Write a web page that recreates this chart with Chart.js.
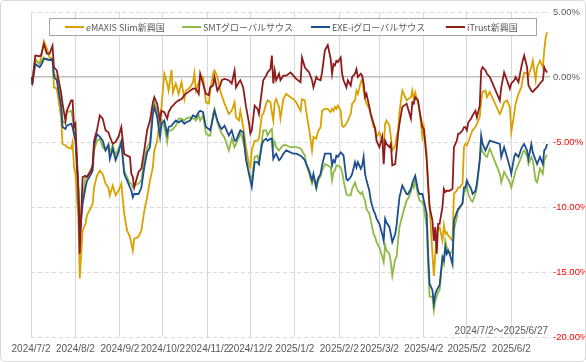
<!DOCTYPE html>
<html>
<head>
<meta charset="utf-8">
<script src="https://cdn.jsdelivr.net/npm/chart.js@4.4.1/dist/chart.umd.min.js"></script>
<style>
body { margin: 0; background: #fff; }
#wrap { position: relative; width: 586px; height: 362px; }
#frame { position: absolute; left: 0; top: 0; width: 586px; height: 362px; box-sizing: border-box; border: 1.5px solid #d9d9d9; border-radius: 5px; pointer-events: none; }
</style>
</head>
<body>
<div id="wrap"><canvas id="chart" width="586" height="362"></canvas><div id="frame"></div></div>
<script>
// observation dates (x categories)
const dates = [
  '2024-07-02','2024-07-03','2024-07-05','2024-07-08','2024-07-09','2024-07-11','2024-07-13','2024-07-15','2024-07-17','2024-07-18',
  '2024-07-20','2024-07-23','2024-07-24','2024-07-26','2024-07-27','2024-07-30','2024-07-31','2024-08-01','2024-08-02','2024-08-04',
  '2024-08-05','2024-08-07','2024-08-09','2024-08-10','2024-08-13','2024-08-14','2024-08-15','2024-08-17','2024-08-19','2024-08-21',
  '2024-08-23','2024-08-25','2024-08-26','2024-08-28','2024-08-30','2024-09-01','2024-09-03','2024-09-05','2024-09-07','2024-09-09',
  '2024-09-10','2024-09-11','2024-09-12','2024-09-15','2024-09-17','2024-09-19','2024-09-21','2024-09-23','2024-09-25','2024-09-26',
  '2024-09-28','2024-09-30','2024-10-01','2024-10-03','2024-10-05','2024-10-06','2024-10-08','2024-10-09','2024-10-11','2024-10-13',
  '2024-10-15','2024-10-17','2024-10-18','2024-10-21','2024-10-23','2024-10-24','2024-10-25','2024-10-27','2024-10-28','2024-10-30',
  '2024-11-01','2024-11-03','2024-11-04','2024-11-06','2024-11-07','2024-11-09','2024-11-11','2024-11-12','2024-11-14','2024-11-17',
  '2024-11-19','2024-11-21','2024-11-22','2024-11-24','2024-11-25','2024-11-27','2024-11-29','2024-12-01','2024-12-02','2024-12-03',
  '2024-12-05','2024-12-07','2024-12-08','2024-12-10','2024-12-11','2024-12-13','2024-12-14','2024-12-16','2024-12-17','2024-12-18',
  '2024-12-19','2024-12-20','2024-12-22','2024-12-23','2024-12-25','2024-12-27','2024-12-30','2025-01-01','2025-01-03','2025-01-06',
  '2025-01-07','2025-01-09','2025-01-10','2025-01-12','2025-01-14','2025-01-15','2025-01-17','2025-01-18','2025-01-20','2025-01-21',
  '2025-01-23','2025-01-25','2025-01-27','2025-01-28','2025-01-29','2025-01-30','2025-01-31','2025-02-01','2025-02-03','2025-02-04',
  '2025-02-05','2025-02-07','2025-02-08','2025-02-10','2025-02-11','2025-02-13','2025-02-14','2025-02-15','2025-02-17','2025-02-18',
  '2025-02-19','2025-02-20','2025-02-21','2025-02-23','2025-02-24','2025-02-26','2025-02-27','2025-02-28','2025-03-02','2025-03-04',
  '2025-03-05','2025-03-06','2025-03-07','2025-03-09','2025-03-10','2025-03-11','2025-03-13','2025-03-14','2025-03-15','2025-03-16',
  '2025-03-18','2025-03-21','2025-03-22','2025-03-24','2025-03-25','2025-03-26','2025-03-27','2025-03-29','2025-03-30','2025-04-01',
  '2025-04-02','2025-04-04','2025-04-05','2025-04-06','2025-04-08','2025-04-09','2025-04-10','2025-04-11','2025-04-12','2025-04-13',
  '2025-04-15','2025-04-16','2025-04-17','2025-04-18','2025-04-19','2025-04-20','2025-04-22','2025-04-23','2025-04-25','2025-04-26',
  '2025-04-27','2025-04-29','2025-04-30','2025-05-01','2025-05-02','2025-05-03','2025-05-05','2025-05-06','2025-05-08','2025-05-09',
  '2025-05-11','2025-05-12','2025-05-13','2025-05-15','2025-05-16','2025-05-18','2025-05-25','2025-05-26','2025-05-28','2025-05-30',
  '2025-06-01','2025-06-02','2025-06-04','2025-06-05','2025-06-07','2025-06-09','2025-06-10','2025-06-11','2025-06-13','2025-06-14',
  '2025-06-16','2025-06-17','2025-06-19','2025-06-20','2025-06-22','2025-06-24','2025-06-25','2025-06-26','2025-06-27'
];

// cumulative return, %
const emaxis = [
  -0.1,-0.1,1.4,1.0,1.5,2.75,2.2,1.5,1.4,-0.8,
  -0.9,-3.1,-5.15,-5.25,-5.4,-5.5,-5.0,-6.95,-7.45,-10.8,
  -15.5,-11.8,-11.3,-10.65,-10.0,-9.75,-8.5,-7.6,-7.2,-7.45,
  -8.2,-8.5,-9.1,-8.35,-9.1,-8.75,-8.2,-10.5,-11.8,-12.3,
  -12.8,-13.35,-12.45,-12.3,-11.8,-10.3,-9.25,-7.95,-6.95,-5.65,
  -4.9,-3.1,-2.3,0.25,-0.5,-1.05,0.55,-1.2,-0.5,-1.3,
  -0.4,-1.7,-1.05,-0.8,-0.4,0.3,-1.05,-0.4,0.1,0.0,
  -1.95,-2.05,-1.05,0.25,0.5,0.0,-1.05,-1.4,-2.05,-2.85,
  -2.6,-1.95,-3.1,-3.35,-2.6,-3.85,-5.4,-6.7,-6.95,-5.65,
  -4.9,-4.9,-4.75,-2.95,-2.85,-2.05,-1.8,-1.95,-2.7,-3.35,
  -1.95,-1.7,-2.3,-3.2,-1.7,-1.3,-1.55,-1.7,-1.95,-2.6,
  -1.7,-1.8,-2.7,-4.0,-5.65,-4.6,-4.75,-4.25,-3.85,-2.6,
  -2.45,-2.45,-2.7,-2.45,-2.6,-2.3,-2.45,-2.2,-2.6,-3.75,
  -3.85,-3.6,-3.35,-2.85,-2.05,-1.8,-1.05,-1.3,-0.4,-0.15,
  -1.05,-1.7,-2.05,-2.45,-2.95,-3.85,-3.85,-4.6,-4.25,-4.9,
  -5.4,-3.6,-3.35,-3.75,-4.6,-5.65,-5.3,-4.6,-4.1,-2.7,
  -1.05,-1.8,-1.7,-1.55,-1.05,-1.8,-1.2,-2.05,-2.6,-4.6,
  -3.85,-5.9,-8.5,-10.0,-13.6,-15.3,-13.6,-12.05,-11.55,-11.55,
  -12.6,-11.4,-12.05,-11.95,-12.2,-12.3,-12.6,-8.95,-8.75,-8.5,
  -8.5,-8.2,-5.4,-5.15,-5.25,-5.0,-4.35,-4.1,-3.85,-3.6,
  -3.1,-1.8,-1.15,-1.05,-1.55,-1.15,-2.85,-2.6,-1.95,-1.8,
  -2.3,-4.25,-2.85,-2.05,-1.3,-0.8,-0.15,0.35,0.25,0.1,
  0.75,1.25,-0.25,0.75,1.25,0.75,2.05,3.05,3.45
];
const smt = [
  -0.3,-0.3,1.3,1.0,1.15,1.5,1.3,1.3,1.3,0.25,
  0.0,-1.8,-3.35,-3.6,-2.7,-2.6,-3.1,-4.1,-4.6,-8.2,
  -11.8,-9.25,-7.7,-7.7,-7.05,-6.95,-5.65,-4.9,-4.75,-5.4,
  -5.65,-5.15,-5.8,-5.25,-6.0,-5.5,-4.9,-7.2,-7.7,-8.2,
  -8.2,-8.5,-8.35,-8.2,-7.95,-6.4,-5.4,-5.0,-2.2,-1.95,
  -2.6,-4.1,-3.35,-3.85,-5.0,-4.1,-4.1,-4.0,-3.75,-3.2,
  -3.2,-3.35,-3.2,-3.1,-3.2,-3.2,-3.35,-2.95,-3.35,-2.95,
  -4.35,-4.5,-4.5,-2.85,-2.45,-3.5,-4.1,-4.35,-4.65,-5.65,
  -4.75,-5.4,-5.15,-4.65,-4.25,-4.9,-6.15,-7.3,-7.7,-7.85,
  -6.15,-6.05,-6.55,-4.9,-4.1,-4.1,-4.5,-4.1,-4.0,-5.4,
  -5.0,-5.4,-5.65,-5.5,-5.25,-5.25,-5.4,-5.4,-5.4,-5.5,
  -5.65,-6.05,-6.7,-7.45,-8.2,-7.7,-8.6,-8.1,-7.6,-7.2,
  -6.7,-6.8,-6.95,-7.95,-7.3,-7.2,-6.8,-6.8,-6.95,-7.3,
  -7.95,-9.0,-9.1,-9.1,-8.6,-8.1,-8.5,-8.75,-9.0,-8.85,
  -9.25,-9.5,-10.15,-10.5,-11.05,-12.1,-12.3,-12.7,-13.1,-13.85,
  -14.25,-12.95,-13.35,-13.6,-14.25,-15.3,-14.0,-13.85,-12.6,-11.55,
  -10.65,-9.5,-9.35,-8.85,-8.2,-8.5,-7.95,-9.1,-9.5,-9.6,
  -10.0,-11.55,-14.6,-16.9,-16.9,-17.95,-17.2,-16.9,-16.55,-16.4,
  -14.1,-14.4,-12.6,-13.1,-13.35,-13.6,-13.35,-11.8,-10.8,-10.15,
  -10.15,-9.6,-8.85,-8.75,-8.2,-9.0,-9.5,-9.6,-9.0,-8.5,
  -6.4,-5.4,-5.75,-6.05,-6.15,-5.5,-7.45,-8.1,-7.3,-7.7,
  -8.1,-8.5,-7.7,-7.2,-6.7,-6.15,-5.8,-5.65,-6.05,-6.7,
  -6.15,-6.4,-7.95,-8.1,-7.05,-7.45,-6.4,-6.15,-6.0
];
const exe = [
  -0.5,-0.5,1.0,0.75,0.9,1.4,1.4,1.3,1.4,0.0,
  -0.25,-2.3,-3.85,-4.0,-3.75,-3.6,-3.85,-4.4,-4.9,-8.7,
  -12.3,-9.75,-8.5,-8.0,-7.45,-7.2,-5.25,-4.4,-4.6,-4.9,
  -5.65,-5.25,-6.3,-5.5,-6.4,-5.8,-5.0,-7.45,-7.95,-8.5,
  -8.75,-9.25,-9.0,-9.0,-8.5,-6.95,-5.8,-5.4,-2.85,-2.3,
  -3.1,-4.6,-3.6,-3.35,-4.4,-3.85,-3.75,-3.6,-3.35,-3.5,
  -3.35,-3.6,-3.5,-3.35,-2.95,-3.0,-3.1,-2.7,-2.6,-2.7,
  -3.85,-4.0,-4.1,-3.1,-2.6,-3.35,-3.85,-4.0,-3.75,-4.5,
  -4.1,-4.9,-4.9,-4.35,-4.1,-4.25,-6.4,-7.45,-7.95,-8.45,
  -6.55,-6.55,-6.7,-5.25,-4.9,-4.75,-4.9,-4.75,-4.75,-6.3,
  -6.05,-5.9,-6.4,-6.3,-5.9,-5.65,-5.8,-5.9,-5.9,-6.05,
  -6.15,-6.4,-6.7,-7.2,-7.95,-7.45,-8.5,-7.85,-7.45,-6.8,
  -5.9,-5.9,-5.9,-6.8,-6.4,-6.55,-6.05,-6.15,-5.8,-5.9,
  -6.05,-7.85,-7.95,-7.7,-7.45,-6.55,-6.95,-6.55,-7.05,-6.8,
  -6.15,-7.45,-7.95,-8.75,-9.5,-10.3,-10.5,-10.9,-11.3,-12.1,
  -12.6,-10.9,-11.2,-11.55,-12.1,-12.7,-12.1,-11.4,-10.3,-9.25,
  -8.35,-9.0,-9.0,-8.6,-8.2,-7.85,-7.6,-8.75,-9.0,-9.0,
  -9.5,-10.5,-13.6,-15.9,-16.4,-17.45,-16.7,-16.4,-16.2,-16.0,
  -13.85,-14.1,-13.1,-13.6,-13.35,-13.6,-14.4,-11.05,-10.4,-10.15,
  -10.0,-9.75,-8.5,-8.5,-7.95,-8.2,-8.6,-9.0,-8.75,-8.2,
  -6.4,-4.5,-5.15,-5.65,-5.4,-4.9,-5.15,-6.15,-5.4,-6.15,
  -6.95,-7.45,-6.15,-5.9,-6.15,-5.5,-5.3,-5.15,-5.65,-6.3,
  -5.15,-5.8,-6.4,-6.7,-6.15,-6.7,-5.65,-5.5,-5.15
];
const itrust = [
  0.0,-0.4,1.65,1.6,1.65,2.55,1.8,1.8,2.4,0.75,
  0.5,-1.2,-2.05,-3.35,-2.6,-1.8,-1.8,-3.85,-3.6,-8.7,
  -13.6,-7.7,-7.6,-7.7,-7.2,-6.7,-4.9,-4.1,-2.95,-3.2,
  -4.1,-4.25,-4.6,-5.15,-5.0,-4.6,-3.85,-5.9,-6.05,-6.15,
  -7.45,-7.7,-8.5,-7.3,-7.05,-5.65,-4.1,-3.35,-1.95,-1.55,
  -2.05,-3.35,-2.6,-2.7,-3.2,-2.7,-2.3,-2.2,-1.95,-1.8,
  -1.7,-1.4,-1.3,-1.05,-0.9,-0.9,-0.9,-1.3,0.25,-0.5,
  -1.3,-1.4,-0.8,-0.65,0.0,-1.05,-0.65,-0.25,-0.15,-0.25,
  -0.5,0.5,-0.8,-0.4,-0.25,-0.8,-2.3,-3.5,-4.35,-4.1,
  -2.2,-2.45,-2.85,-1.05,-0.25,0.1,0.35,0.6,1.65,-0.5,
  0.5,-0.25,0.25,-0.25,0.1,0.1,0.35,0.1,-0.15,-0.4,
  1.5,0.75,0.6,0.35,-0.25,-0.8,0.0,-0.15,-0.25,0.35,
  2.05,2.45,1.4,0.25,1.0,0.9,1.25,1.15,1.5,0.25,
  -0.25,-0.8,-0.25,-0.65,0.0,0.25,0.6,0.0,0.25,0.1,
  -0.5,-1.55,-1.3,-2.3,-2.85,-3.6,-4.0,-4.9,-5.4,-4.6,
  -6.7,-4.9,-5.15,-5.4,-5.15,-6.8,-6.7,-5.65,-4.4,-3.6,
  -2.3,-2.05,-2.45,-3.2,-1.95,-2.05,-1.55,-1.8,-2.6,-3.85,
  -4.0,-6.4,-8.2,-10.0,-11.05,-12.6,-11.55,-13.6,-11.3,-11.3,
  -10.0,-8.6,-8.85,-8.75,-8.75,-8.75,-8.6,-5.4,-4.9,-4.35,
  -4.35,-4.1,-3.85,-3.85,-4.1,-3.5,-3.2,-2.95,-2.6,-3.1,
  -2.2,0.5,0.75,0.5,0.25,0.0,-1.8,-0.8,0.35,-0.25,
  -0.9,-0.5,-0.25,0.0,-0.4,0.75,1.25,1.65,0.75,-0.65,
  -1.05,-1.15,-0.9,-0.8,-0.5,-0.25,0.75,0.5,0.35
];

const seriesNames = ['eMAXIS Slim新興国', 'SMTグローバルサウス', 'EXE-iグローバルサウス', 'iTrust新興国'];
const seriesColors = ['#d9a200', '#8fba45', '#1f4e8f', '#8e1c1c'];
const monthTicks = ['2024/7/2','2024/8/2','2024/9/2','2024/10/2','2024/11/2','2024/12/2','2025/1/2','2025/2/2','2025/3/2','2025/4/2','2025/5/2','2025/6/2'];
const periodNote = '2024/7/2～2025/6/27';

const DAY = 86400000;
const origin = Date.UTC(2024, 6, 2);
function dayOf(s) {
    const p = s.split(/[-\/]/).map(Number);
    return (Date.UTC(p[0], p[1] - 1, p[2]) - origin) / DAY;
}
const xs = dates.map(dayOf);
const tickDays = monthTicks.map(dayOf);

const fontFamily = "'Liberation Sans Narrow', 'Liberation Sans', 'Noto Sans CJK JP', sans-serif";
const xTickFont = { family: fontFamily, size: 10 };
const yTickFont = { family: fontFamily, size: 9.5 };
const legendFont = "9px 'Noto Sans CJK JP', sans-serif";

const allSeries = [emaxis, smt, exe, itrust];
const datasets = allSeries.map((vals, i) => ({
    label: seriesNames[i],
    data: vals.map((v, j) => ({ x: xs[j], y: v })),
    borderColor: seriesColors[i],
    backgroundColor: seriesColors[i],
    borderWidth: 1.8,
    pointRadius: 0,
    tension: 0,
    order: 4 - i
}));

// legend box + period note
const overlay = {
    id: 'overlay',
    afterDraw(chart) {
        const ctx = chart.ctx, area = chart.chartArea;
        ctx.save();
        ctx.fillStyle = '#fff';
        ctx.fillRect(49, 18, 488, 17);
        ctx.strokeStyle = '#a6a6a6';
        ctx.lineWidth = 1;
        ctx.strokeRect(49.5, 18.5, 487, 17);
        const itemX = [65, 182, 311, 446];
        ctx.font = legendFont;
        ctx.textBaseline = 'middle';
        ctx.textAlign = 'left';
        seriesNames.forEach((name, i) => {
            ctx.strokeStyle = seriesColors[i];
            ctx.lineWidth = 2;
            ctx.beginPath();
            ctx.moveTo(itemX[i], 27);
            ctx.lineTo(itemX[i] + 19, 27);
            ctx.stroke();
            ctx.fillStyle = '#595959';
            ctx.fillText(name, itemX[i] + 21, 27.5);
        });
        ctx.font = xTickFont.size + 'px ' + fontFamily;
        ctx.textAlign = 'right';
        ctx.textBaseline = 'alphabetic';
        ctx.fillStyle = '#595959';
        ctx.fillText(periodNote, area.right - 2, area.bottom - 3);
        ctx.restore();
    }
};

new Chart(document.getElementById('chart'), {
    type: 'line',
    data: { datasets: datasets },
    options: {
        responsive: false,
        animation: false,
        devicePixelRatio: 1,
        layout: { padding: { left: 31, top: 12, right: 0, bottom: 0 } },
        plugins: { legend: { display: false }, tooltip: { enabled: false } },
        scales: {
            x: {
                type: 'linear',
                min: 0,
                max: 362,
                afterBuildTicks: axis => { axis.ticks = tickDays.map(v => ({ value: v })); },
                afterFit: axis => { axis.height = 25; },
                ticks: {
                    autoSkip: false,
                    maxRotation: 0,
                    padding: 6,
                    color: '#595959',
                    font: xTickFont,
                    callback: (v, i) => monthTicks[i]
                },
                grid: { color: '#d9d9d9', drawTicks: false },
                border: { display: false }
            },
            y: {
                position: 'right',
                min: -20,
                max: 5,
                afterFit: axis => { axis.width = 36; },
                ticks: {
                    stepSize: 5,
                    padding: 3,
                    font: yTickFont,
                    color: c => c.tick.value < 0 ? '#ff0000' : '#595959',
                    callback: v => v.toFixed(2) + '%'
                },
                grid: {
                    drawTicks: false,
                    color: c => c.tick && c.tick.value === 0 ? '#bfbfbf' : '#d9d9d9',
                    lineWidth: c => c.tick && c.tick.value === 0 ? 1.5 : 1
                },
                border: { display: false, dash: c => c.tick && c.tick.value === 0 ? [] : [4, 3] }
            }
        }
    },
    plugins: [overlay]
});
</script>
</body>
</html>
